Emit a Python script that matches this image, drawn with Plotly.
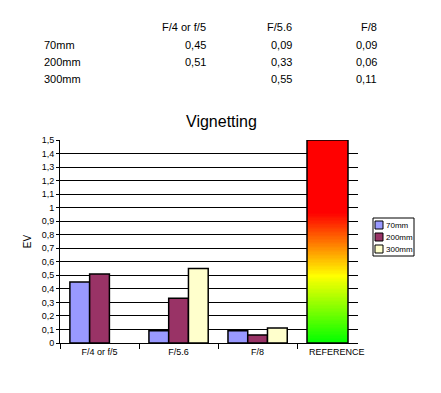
import plotly.graph_objects as go

categories = ["F/4 or f/5", "F/5.6", "F/8"]
series_names = ["70mm", "200mm", "300mm"]
v70 = [0.45, 0.09, 0.09]
v200 = [0.51, 0.33, 0.06]
v300 = [None, 0.55, 0.11]
series_values = [v70, v200, v300]
colors = ["#9999FF", "#993366", "#FFFFCC"]
y_ticks = [round(i * 0.1, 1) for i in range(16)]
ref_label = "REFERENCE"

OFF = 8  # page body margin
W, H = 441 - OFF, 393 - OFF
L, R, T, B = 60 - OFF, 358 - OFF, 140 - OFF, 343 - OFF
x_min, x_max = -0.5, 3.27

def px_to_x(px):
    return x_min + (px - OFF - L) / (R - L) * (x_max - x_min)

def pxp(px):
    return (px - OFF - L) / (R - L)

def pyp(py):
    return (B - (py - OFF)) / (B - T)

fig = go.Figure()

# Reference gradient bar
n = 150
y_edges = [1.5 * i / n for i in range(n + 1)]
z = [[(y_edges[i] + y_edges[i + 1]) / 2] for i in range(n)]
rx0, rx1 = px_to_x(307), px_to_x(348)
fig.add_trace(go.Heatmap(
    x=[rx0, rx1], y=y_edges, z=z, zmin=0, zmax=1.5, showscale=False,
    colorscale=[[0, "#00FF00"], [0.33, "#FFFF00"], [0.64, "#FF0000"], [1, "#FF0000"]],
    hoverinfo="skip", showlegend=False,
))
shapes = [dict(type="rect", x0=rx0, x1=rx1, y0=0, y1=1.5, xref="x", yref="y",
               line=dict(color="black", width=1.5))]

for name, vals, c in zip(series_names, series_values, colors):
    fig.add_trace(go.Bar(
        x=list(range(len(categories))), y=vals, name=name, showlegend=False,
        marker=dict(color=c, line=dict(color="black", width=1.5)),
    ))

font = "Arial, Liberation Sans, sans-serif"

# Table annotations
col_px = [208, 294, 379]
row_px = [45, 62, 79]
ann = []
for ci, cat in enumerate(categories):
    ann.append(dict(text=cat, x=pxp(col_px[ci]), y=pyp(27), xref="paper", yref="paper",
                    xanchor="right", yanchor="middle", showarrow=False,
                    font=dict(size=11, family=font, color="black")))
for ri, (name, vals) in enumerate(zip(series_names, series_values)):
    ann.append(dict(text=name, x=pxp(42), y=pyp(row_px[ri]), xref="paper", yref="paper",
                    xanchor="left", yanchor="middle", showarrow=False,
                    font=dict(size=11, family=font, color="black")))
    for ci, v in enumerate(vals):
        if v is None:
            continue
        ann.append(dict(text=f"{v:.2f}".replace(".", ","), x=pxp(col_px[ci]), y=pyp(row_px[ri]),
                        xref="paper", yref="paper", xanchor="right", yanchor="middle",
                        showarrow=False, font=dict(size=11, family=font, color="black")))
# Title
ann.append(dict(text="Vignetting", x=pxp(221), y=pyp(121), xref="paper", yref="paper",
                xanchor="center", yanchor="middle", showarrow=False,
                font=dict(size=16, family=font, color="black")))

# Manual legend
shapes.append(dict(type="rect", xref="paper", yref="paper", x0=pxp(373), x1=pxp(414),
                   y0=pyp(256), y1=pyp(218), line=dict(color="black", width=1),
                   fillcolor="white", layer="above"))
sw_y = [221, 233, 245]
for i, (name, c) in enumerate(zip(series_names, colors)):
    shapes.append(dict(type="rect", xref="paper", yref="paper", x0=pxp(375), x1=pxp(383),
                       y0=pyp(sw_y[i] + 8), y1=pyp(sw_y[i]), line=dict(color="black", width=1),
                       fillcolor=c, layer="above"))
    ann.append(dict(text=name, x=pxp(384), y=pyp(sw_y[i] + 4), xref="paper", yref="paper",
                    xanchor="left", yanchor="middle", showarrow=False,
                    font=dict(size=8, family=font, color="black")))

fig.update_layout(
    width=W, height=H,
    margin=dict(l=L, r=W - R, t=T, b=H - B, autoexpand=False),
    paper_bgcolor="white", plot_bgcolor="white",
    barmode="group", bargap=0.25, bargroupgap=0,
    separators=", ",
    annotations=ann, shapes=shapes,
    showlegend=False,
    font=dict(family=font, color="black"),
    xaxis=dict(
        range=[x_min, x_max], tickvals=[0, 1, 2, 3], ticktext=categories + [ref_label],
        showgrid=False, zeroline=False, showline=True, linecolor="black", linewidth=1,
        ticks="", tickfont=dict(size=9, family=font, color="black"), automargin=False,
        minor=dict(tickvals=[-0.5, 0.5, 1.5, 2.5], ticks="outside", ticklen=5,
                   tickcolor="black", showgrid=False),
    ),
    yaxis=dict(
        range=[0, 1.5], tickvals=y_ticks, tickformat=".1~f", automargin=False,
        showgrid=True, gridcolor="black", gridwidth=1, zeroline=False,
        showline=True, linecolor="black", linewidth=1, ticks="outside", ticklen=3,
        tickcolor="black", tickfont=dict(size=9, family=font, color="black"),
        title=dict(text="EV", font=dict(size=10, family=font, color="black"), standoff=8),
    ),
)

fig.write_html("out.html")
